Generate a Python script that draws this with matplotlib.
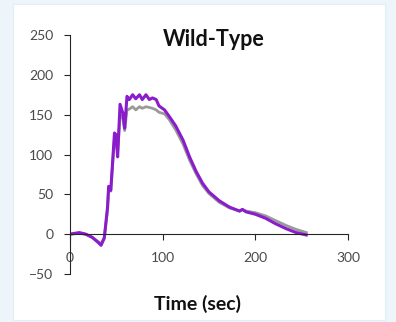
import matplotlib
matplotlib.use('Agg')
import matplotlib.pyplot as plt
from matplotlib.patches import Rectangle

plt.rcParams['font.family'] = ['Lato', 'DejaVu Sans']

# time (sec) and response for the two traces
t_purple = [0, 10, 17, 24, 30, 33.5, 37, 40.5, 41.7, 44, 48, 49.6, 51.4, 54, 57, 59,
            61.5, 64, 67.6, 71, 75, 78, 82, 85.6, 89, 93, 96, 102, 107, 114, 122,
            129, 136, 143, 150, 161, 172, 183, 186, 190, 200, 211, 222, 233, 244, 255]
y_purple = [0, 2, 0, -4, -10, -14, -5, 34, 60, 55, 127, 125, 97, 163, 152, 133,
            173, 169, 175, 170, 175, 169, 175, 169, 171, 169, 161, 156, 148, 136, 118,
            97, 79, 64, 53, 42, 34, 29, 31, 28, 25, 20, 13, 7, 2, -1]

t_gray = [0, 10, 17, 24, 30, 33.5, 37, 40.5, 41.7, 44, 48, 49.6, 51.4, 54, 57, 59,
          61.5, 64, 67.6, 71, 75, 78, 82, 85.6, 89, 93, 96, 102, 107, 114, 122,
          129, 136, 143, 150, 161, 172, 183, 186, 190, 200, 211, 222, 233, 244, 255]
y_gray = [0, 1, 0, -4, -9, -12, -4, 30, 57, 54, 120, 118, 102, 150, 145, 130,
          156, 157, 160, 156, 160, 158, 160, 159, 158, 156, 153, 151, 144, 131, 113,
          93, 76, 61, 51, 40, 33, 29, 31, 29, 27, 23, 17, 11, 6, 2]

fig = plt.figure(figsize=(3.96, 3.22), dpi=100)
fig.patch.set_facecolor('#eef5fa')
fig.patches.append(Rectangle((13 / 396, 1 - 320 / 322), (385 - 13) / 396, (320 - 4) / 322,
                             transform=fig.transFigure, facecolor='white',
                             edgecolor='#e2eef7', linewidth=0.8, zorder=-10))

ax = fig.add_axes([70 / 396, 1 - 274 / 322, (348 - 70) / 396, (274 - 35) / 322])
ax.set_zorder(5)
ax.set_facecolor('none')
ax.plot(t_gray, y_gray, color='#9a9a9a', linewidth=2.0, solid_joinstyle='round')
ax.plot(t_purple, y_purple, color='#8a1ccb', linewidth=2.2, solid_joinstyle='round')

ax.set_xlim(0, 300)
ax.set_ylim(-50, 250)
ax.set_xticks([0, 100, 200, 300])
ax.set_yticks([-50, 0, 50, 100, 150, 200, 250])
ax.spines['top'].set_visible(False)
ax.spines['right'].set_visible(False)
ax.spines['bottom'].set_position(('data', 0))
for s in ('left', 'bottom'):
    ax.spines[s].set_color('#262626')
    ax.spines[s].set_linewidth(0.8)
ax.tick_params(axis='both', direction='out', length=4, width=0.8, color='#262626',
               labelsize=10, labelcolor='#4a4a4a')
ax.tick_params(axis='y', pad=8)
ax.tick_params(axis='x', pad=9)

fig.text(214 / 396, 1 - 40 / 322, 'Wild-Type', ha='center', va='center',
         fontsize=15.5, fontweight='bold', color='#111111')
fig.text(198 / 396, 1 - 304 / 322, 'Time (sec)', ha='center', va='center',
         fontsize=14, fontweight='bold', color='#111111')

fig.savefig('out.png', dpi=100)
